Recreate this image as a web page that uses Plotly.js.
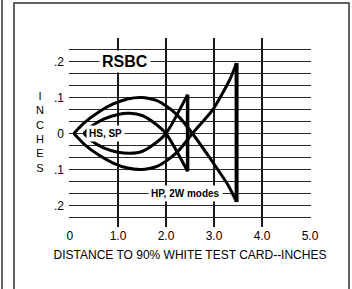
<!DOCTYPE html>
<html>
<head>
<meta charset="utf-8">
<script src="https://cdn.plot.ly/plotly-3.0.1.min.js"></script>
<style>html,body{margin:0;padding:0;background:#fff;}#chart{width:352px;height:289px;}</style>
</head>
<body>
<div id="chart"></div>
<script>
// HS, SP mode (inner pattern)
const hsUpperX = [0.29, 0.45, 0.7, 1.0, 1.25, 1.5, 1.75, 2.0, 2.45];
const hsUpperY = [0, 0.02, 0.04, 0.053, 0.056, 0.05, 0.03, 0, -0.105];
const hsLowerX = [0.29, 0.45, 0.7, 1.0, 1.25, 1.5, 1.75, 2.0, 2.45];
const hsLowerY = [0, -0.02, -0.04, -0.052, -0.055, -0.05, -0.03, 0, 0.108];
const hsBarX = [2.45, 2.45];
const hsBarY = [-0.105, 0.108];
// HP, 2W modes (outer pattern)
const hpUpperX = [0.08, 0.3, 0.6, 0.9, 1.2, 1.5, 1.8, 2.1, 2.3, 2.55, 2.95, 3.3, 3.47];
const hpUpperY = [0, 0.03, 0.06, 0.082, 0.096, 0.1, 0.092, 0.067, 0.042, 0, -0.075, -0.145, -0.19];
const hpLowerX = [0.08, 0.3, 0.6, 0.9, 1.2, 1.5, 1.8, 2.1, 2.3, 2.55, 2.98, 3.33, 3.47];
const hpLowerY = [0, -0.03, -0.06, -0.082, -0.096, -0.1, -0.092, -0.067, -0.042, 0, 0.067, 0.15, 0.196];
const hpBarX = [3.47, 3.47];
const hpBarY = [-0.19, 0.196];
// ticks
const xTickVals = [0, 1, 2, 3, 4, 5];
const xTickText = ['0', '1.0', '2.0', '3.0', '4.0', '5.0'];
const yTickVals = [-0.2, -0.1, 0, 0.1, 0.2];
const yTickText = ['.2', '.1', '0', '.1', '.2'];

const FONT = 'Liberation Sans, Arial, sans-serif';
const curve = (x, y, w) => ({x: x, y: y, type: 'scatter', mode: 'lines',
  line: {color: '#000', width: w, shape: 'spline', smoothing: 0.6}, hoverinfo: 'skip', showlegend: false});
const straight = (x, y, w) => ({x: x, y: y, type: 'scatter', mode: 'lines',
  line: {color: '#000', width: w}, hoverinfo: 'skip', showlegend: false});

const data = [
  curve(hsUpperX, hsUpperY, 3),
  curve(hsLowerX, hsLowerY, 3),
  straight(hsBarX, hsBarY, 3.5),
  curve(hpUpperX, hpUpperY, 3),
  curve(hpLowerX, hpLowerY, 3),
  straight(hpBarX, hpBarY, 4)
];

const L = 69, R = 41, T = 38, B = 62;
const pw = 352 - L - R, ph = 289 - T - B;
const px = v => (v - L) / pw;
const py = v => (289 - B - v) / ph;

const layout = {
  width: 352, height: 289, autosize: false,
  margin: {l: L, r: R, t: T, b: B, pad: 0},
  paper_bgcolor: '#fff', plot_bgcolor: '#fff',
  font: {family: FONT, color: '#000', size: 12},
  showlegend: false,
  xaxis: {
    range: [-0.02, 5.02], tickmode: 'array', tickvals: xTickVals, ticktext: xTickText,
    showgrid: true, gridcolor: '#1a1a1a', gridwidth: 1.4, zeroline: false, showline: false,
    ticks: '', tickfont: {size: 12, family: FONT}, automargin: false, fixedrange: true,
    title: {text: 'DISTANCE TO 90% WHITE TEST CARD--INCHES', font: {size: 12, family: FONT}, standoff: 8}
  },
  yaxis: {
    range: [-0.2597, 0.2653], tickmode: 'array', tickvals: yTickVals, ticktext: yTickText,
    showgrid: true, gridcolor: '#2a2a2a', gridwidth: 1.4, zeroline: false, showline: false,
    ticks: '', tickfont: {size: 12, family: FONT}, automargin: false, fixedrange: true,
    ticklabelstandoff: 4,
    minor: {tickmode: 'linear', tick0: 0, dtick: 1/30, showgrid: true, gridcolor: '#2a2a2a', gridwidth: 1.4, ticks: ''}
  },
  annotations: [
    {x: 1.15, y: 0.2, xref: 'x', yref: 'y', text: '<b>RSBC</b>', showarrow: false,
     font: {size: 16, family: FONT}, bgcolor: '#fff', borderpad: 2},
    {x: 0.75, y: 0, xref: 'x', yref: 'y', text: '<b>HS, SP</b>', showarrow: false,
     font: {size: 10, family: FONT}, bgcolor: '#fff', borderpad: 2},
    {x: 2.4, y: -1/6, xref: 'x', yref: 'y', text: '<b>HP, 2W modes</b>', showarrow: false,
     font: {size: 10, family: FONT}, bgcolor: '#fff', borderpad: 2},
    {x: px(40), y: py(132), xref: 'paper', yref: 'paper', xanchor: 'center', yanchor: 'middle',
     text: 'I<br>N<br>C<br>H<br>E<br>S',
     showarrow: false, font: {size: 11, family: FONT}, align: 'center'}
  ],
  shapes: [
    {type: 'line', xref: 'paper', yref: 'paper', x0: px(2), x1: px(2), y0: py(-5), y1: py(300),
     line: {color: '#333', width: 1.5}},
    {type: 'rect', xref: 'paper', yref: 'paper', x0: px(14), x1: px(349), y0: py(300), y1: py(3),
     line: {color: '#333', width: 1.5}}
  ]
};

Plotly.newPlot('chart', data, layout, {staticPlot: true, displayModeBar: false});
</script>
</body>
</html>
